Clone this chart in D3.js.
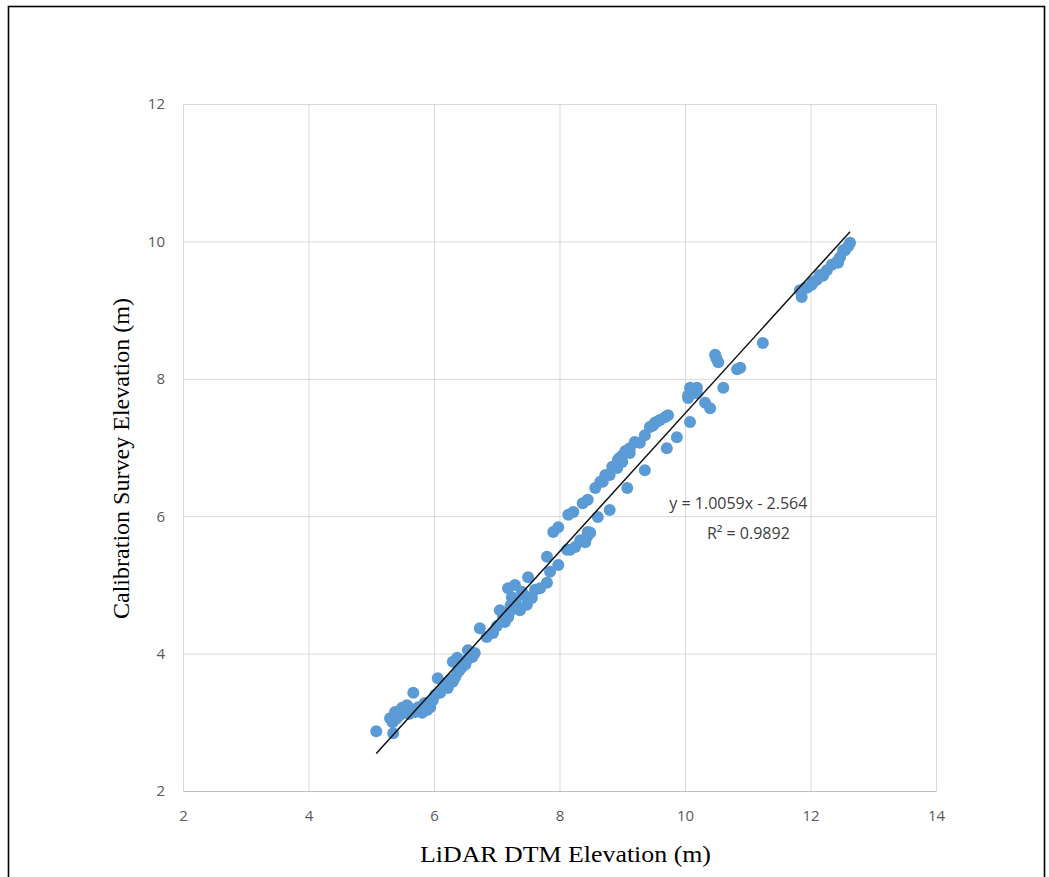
<!DOCTYPE html>
<html>
<head>
<meta charset="utf-8">
<script src="https://d3js.org/d3.v7.min.js"></script>
<style>
  body { margin: 0; background: #fff; }
</style>
</head>
<body>
<div id="chart-area"></div>
<script>
// LiDAR vs calibration survey elevations
var lidarX = [
  5.08, 5.35, 5.30, 5.38, 5.49, 5.57, 5.67, 5.70, 5.81, 5.89, 5.94, 5.98, 6.06, 6.10, 6.18, 6.22,
  6.30, 6.37, 6.41, 6.46, 6.53, 6.61, 6.65, 5.34, 5.45, 5.60, 5.75, 5.85, 6.02, 6.14, 6.26, 6.34,
  6.44, 6.50, 6.58, 5.62, 5.40,
  6.30, 6.37, 6.54, 6.62, 6.73, 6.84, 6.94, 7.05, 7.13, 7.18, 7.18, 7.24, 7.29, 7.37, 7.40, 7.48,
  7.50, 7.56, 7.61, 7.69, 7.80, 7.80, 7.85, 7.98, 8.12, 7.00, 7.10, 7.22, 7.30, 7.44, 7.20,
  8.17, 8.25, 8.44, 8.45, 7.90, 7.98, 8.14, 8.22, 8.37, 8.45, 8.57, 8.61, 8.69, 8.80, 8.80, 8.92,
  9.00, 9.08, 9.12, 9.36, 8.33, 8.41, 8.49,
  8.73, 8.84, 8.93, 9.01, 9.12, 9.20, 9.28, 9.36, 9.44, 9.52, 9.60, 9.68, 9.73, 9.71, 9.87, 10.08,
  10.05, 10.08, 10.19, 10.32, 10.40, 8.65, 8.96, 9.05, 9.49, 9.56,
  10.48, 10.53, 10.50, 10.88, 10.83, 10.61, 11.24, 10.19, 10.05,
  11.86, 11.91, 12.02, 12.10, 12.15, 12.18, 12.26, 12.34, 12.44, 12.47, 12.55, 12.63, 11.83, 12.04,
  12.42, 12.52, 12.60, 12.20, 11.95
];
var surveyY = [
  2.87, 2.84, 3.06, 3.15, 3.21, 3.25, 3.43, 3.15, 3.14, 3.18, 3.22, 3.32, 3.64, 3.43, 3.57, 3.50,
  3.59, 3.72, 3.76, 3.86, 3.91, 3.95, 4.01, 3.00, 3.10, 3.12, 3.22, 3.28, 3.40, 3.50, 3.62, 3.66,
  3.80, 3.84, 3.98, 3.20, 3.05,
  3.88, 3.94, 4.05, 3.98, 4.37, 4.24, 4.30, 4.63, 4.46, 4.53, 4.95, 4.82, 5.00, 4.63, 4.90, 4.71,
  5.11, 4.81, 4.93, 4.95, 5.03, 5.41, 5.19, 5.29, 5.51, 4.40, 4.55, 4.70, 4.75, 4.85, 4.60,
  5.51, 5.55, 5.70, 5.77, 5.77, 5.84, 6.02, 6.06, 6.19, 6.24, 6.41, 5.99, 6.50, 6.60, 6.09, 6.70,
  6.79, 6.41, 6.92, 6.67, 5.65, 5.62, 5.76,
  6.60, 6.72, 6.82, 6.89, 6.99, 7.08, 7.07, 7.18, 7.30, 7.36, 7.40, 7.44, 7.47, 6.99, 7.15, 7.37,
  7.76, 7.87, 7.87, 7.65, 7.57, 6.50, 6.85, 6.95, 7.32, 7.38,
  8.35, 8.24, 8.30, 8.16, 8.14, 7.87, 8.52, 7.79, 7.72,
  9.19, 9.32, 9.37, 9.44, 9.51, 9.51, 9.58, 9.66, 9.69, 9.77, 9.87, 9.98, 9.29, 9.41,
  9.70, 9.87, 9.93, 9.50, 9.33
];

var xTicks = [2, 4, 6, 8, 10, 12, 14];
var yTicks = [2, 4, 6, 8, 10, 12];
var slope = 1.0059, intercept = -2.564;
var eqText = "y = 1.0059x - 2.564";
var r2Text = "R² = 0.9892";

var width = 1049, height = 877;
var margin = {top: 104, right: 113, bottom: 86, left: 183};
var plotW = width - margin.left - margin.right;
var plotH = height - margin.top - margin.bottom;

var svg = d3.select("#chart-area").append("svg").attr("width", width).attr("height", height);

// outer frame
svg.append("rect").attr("x", 8.5).attr("y", 6.5).attr("width", 1036).attr("height", 890)
    .attr("fill", "none").attr("stroke", "#000").attr("stroke-width", 1.6);

var g = svg.append("g").attr("transform", "translate(" + margin.left + "," + margin.top + ")");

var x = d3.scaleLinear().domain([2, 14]).range([0, plotW]);
var y = d3.scaleLinear().domain([2, 12]).range([plotH, 0]);

// gridlines
g.append("g").selectAll("line").data(xTicks).enter().append("line")
    .attr("x1", (d) => x(d) + 0.5).attr("x2", (d) => x(d) + 0.5)
    .attr("y1", 0).attr("y2", plotH).attr("stroke", "#d9d9d9");
g.append("g").selectAll("line").data(yTicks).enter().append("line")
    .attr("x1", 0).attr("x2", plotW)
    .attr("y1", (d) => y(d) + 0.5).attr("y2", (d) => y(d) + 0.5).attr("stroke", "#d9d9d9");

// axes (labels only, Excel style)
var xAxis = d3.axisBottom(x).tickValues(xTicks).tickSize(0).tickPadding(19);
var gx = g.append("g").attr("transform", "translate(0," + plotH + ")").call(xAxis);
gx.select(".domain").attr("stroke", "#bfbfbf");
gx.selectAll("text").attr("fill", "#595959").attr("font-family", "'Open Sans', sans-serif").attr("font-size", "15px");

var yAxis = d3.axisLeft(y).tickValues(yTicks).tickSize(0).tickPadding(18);
var gy = g.append("g").call(yAxis);
gy.select(".domain").remove();
gy.selectAll("text").attr("fill", "#595959").attr("font-family", "'Open Sans', sans-serif").attr("font-size", "15px");

// points
var pts = lidarX.map((d, i) => ({x: d, y: surveyY[i]}));
g.append("g").selectAll("circle").data(pts).enter().append("circle")
    .attr("cx", (d) => x(d.x)).attr("cy", (d) => y(d.y)).attr("r", 6)
    .attr("fill", "#5b9bd5");

// linear trendline
var xMin = d3.min(lidarX), xMax = d3.max(lidarX);
g.append("line")
    .attr("x1", x(xMin)).attr("y1", y(slope * xMin + intercept))
    .attr("x2", x(xMax)).attr("y2", y(slope * xMax + intercept))
    .attr("stroke", "#111").attr("stroke-width", 1.5);

// equation
g.append("text").attr("x", x(9.75)).attr("y", y(6.10)).attr("font-family", "'Open Sans', sans-serif")
    .attr("font-size", "16px").attr("fill", "#404040").text(eqText);
g.append("text").attr("x", x(10.35)).attr("y", y(5.67)).attr("font-family", "'Open Sans', sans-serif")
    .attr("font-size", "16px").attr("fill", "#404040").text(r2Text);

// axis titles
svg.append("text").attr("x", 420).attr("y", 862)
    .attr("font-family", "'Liberation Serif', 'Times New Roman', serif").attr("font-size", "23px")
    .attr("textLength", 291).attr("lengthAdjust", "spacingAndGlyphs")
    .attr("fill", "#000").text("LiDAR  DTM Elevation  (m)");

svg.append("text").attr("transform", "translate(129,619) rotate(-90)")
    .attr("font-family", "'Liberation Serif', 'Times New Roman', serif").attr("font-size", "23px")
    .attr("textLength", 321).attr("lengthAdjust", "spacingAndGlyphs")
    .attr("fill", "#000").text("Calibration  Survey Elevation  (m)");
</script>
</body>
</html>
